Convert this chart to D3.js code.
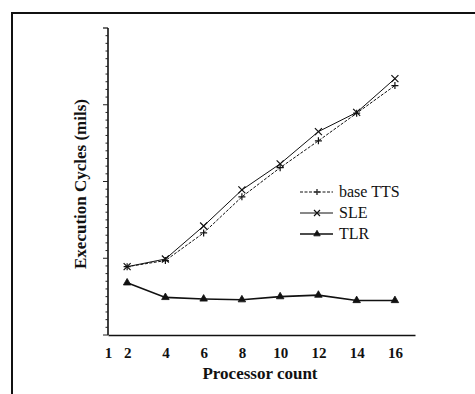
<!DOCTYPE html>
<html>
<head>
<meta charset="utf-8">
<script src="https://cdn.jsdelivr.net/npm/d3@7"></script>
<style>
  body { margin: 0; background: #fff; }
  svg { display: block; }
  text { font-family: "Liberation Serif", "DejaVu Serif", serif; fill: #111; }
</style>
</head>
<body>
<svg id="chart"></svg>
<script>
// data (y in arbitrary units, 1 unit = one major tick)
let processors = [2, 4, 6, 8, 10, 12, 14, 16];
let xTickLabels = [1, 2, 4, 6, 8, 10, 12, 14, 16];
let baseTTS = [0.89, 0.97, 1.33, 1.80, 2.18, 2.53, 2.89, 3.25];
let sle     = [0.89, 0.99, 1.42, 1.89, 2.23, 2.65, 2.90, 3.34];
let tlr     = [0.68, 0.49, 0.47, 0.46, 0.50, 0.52, 0.45, 0.45];
let seriesNames = ["base TTS", "SLE", "TLR"];

let width = 475, height = 394;
let serif = "'Liberation Serif', 'DejaVu Serif', serif";

let svg = d3.select("#chart")
    .attr("width", width)
    .attr("height", height)
    .attr("font-family", serif);

// scanned page frame
svg.append("path")
    .attr("d", "M12,394 V13 H475")
    .attr("fill", "none")
    .attr("stroke", "#111")
    .attr("stroke-width", 2);

let x = d3.scaleLinear().domain([1, 17.05]).range([108, 415]);
let y = d3.scaleLinear().domain([0, 4]).range([335, 28]);

// y axis: major + minor ticks, no labels
let g = svg.append("g");
g.append("line")
    .attr("x1", x(1)).attr("x2", x(1))
    .attr("y1", y(0)).attr("y2", y(4))
    .attr("stroke", "#111").attr("stroke-width", 1.6);

let minor = d3.range(0, 40).map(i => i / 10);
g.selectAll("line.minor")
    .data(minor).enter()
    .append("line")
        .attr("class", "minor")
        .attr("x1", x(1)).attr("x2", d => x(1) - (Number.isInteger(d) ? 5 : 2.5))
        .attr("y1", d => y(d)).attr("y2", d => y(d))
        .attr("stroke", "#222").attr("stroke-width", 1);
g.append("line")
    .attr("x1", x(1) - 5).attr("x2", x(1))
    .attr("y1", y(4)).attr("y2", y(4))
    .attr("stroke", "#111").attr("stroke-width", 1.2);

// x axis
let xAxis = d3.axisBottom(x).tickValues(xTickLabels).tickSize(0).tickPadding(12);
let ax = svg.append("g")
    .attr("transform", "translate(0," + y(0) + ")")
    .call(xAxis)
    .attr("font-family", serif);
ax.select(".domain").attr("stroke", "#111").attr("stroke-width", 1.6);
ax.selectAll("text")
    .attr("font-family", serif)
    .attr("font-size", 15)
    .attr("font-weight", "bold")
    .attr("fill", "#111");

// axis titles
svg.append("text")
    .attr("x", 260).attr("y", 379)
    .attr("text-anchor", "middle")
    .attr("font-family", serif)
    .attr("font-size", 17).attr("font-weight", "bold")
    .text("Processor count");

svg.append("text")
    .attr("transform", "translate(86,184) rotate(-90)")
    .attr("text-anchor", "middle")
    .attr("font-family", serif)
    .attr("font-size", 17).attr("font-weight", "bold")
    .text("Execution Cycles (mils)");

// series
let series = [
    {name: seriesNames[0], values: baseTTS, dash: "3,1.5", width: 1, marker: "plus"},
    {name: seriesNames[1], values: sle, dash: null, width: 1, marker: "cross"},
    {name: seriesNames[2], values: tlr, dash: null, width: 1.6, marker: "triangle"}
];

let line = d3.line()
    .x((d, i) => x(processors[i]))
    .y(d => y(d));

function markerPath(type, s) {
    if (type === "plus") return "M" + (-s) + ",0H" + s + "M0," + (-s) + "V" + s;
    if (type === "cross") return "M" + (-s) + "," + (-s) + "L" + s + "," + s + "M" + (-s) + "," + s + "L" + s + "," + (-s);
    return d3.symbol().type(d3.symbolTriangle).size(s * s * 2)();
}

series.forEach(s => {
    let sg = svg.append("g").attr("class", "series");
    sg.append("path")
        .attr("d", line(s.values))
        .attr("fill", "none")
        .attr("stroke", "#111")
        .attr("stroke-width", s.width)
        .attr("stroke-dasharray", s.dash);
    sg.selectAll("path.mark")
        .data(s.values).enter()
        .append("path")
            .attr("class", "mark")
            .attr("transform", (d, i) => "translate(" + x(processors[i]) + "," + y(d) + ")")
            .attr("d", markerPath(s.marker, 3.5))
            .attr("fill", s.marker === "triangle" ? "#111" : "none")
            .attr("stroke", "#111")
            .attr("stroke-width", s.marker === "triangle" ? 0.8 : 1.2);
});

// legend
let legend = svg.append("g").attr("transform", "translate(300,192)");
let rows = legend.selectAll("g")
    .data(series).enter()
    .append("g")
        .attr("transform", (d, i) => "translate(0," + i * 21 + ")");
rows.append("line")
    .attr("x1", 0).attr("x2", 33)
    .attr("stroke", "#111")
    .attr("stroke-width", d => d.width)
    .attr("stroke-dasharray", d => d.dash);
rows.append("path")
    .attr("transform", "translate(17,0)")
    .attr("d", d => markerPath(d.marker, 3))
    .attr("fill", d => d.marker === "triangle" ? "#111" : "none")
    .attr("stroke", "#111")
    .attr("stroke-width", d => d.marker === "triangle" ? 0.8 : 1.2);
rows.append("text")
    .attr("x", 39).attr("y", 5)
    .attr("font-family", serif)
    .attr("font-size", 16)
    .text(d => d.name);
</script>
</body>
</html>
